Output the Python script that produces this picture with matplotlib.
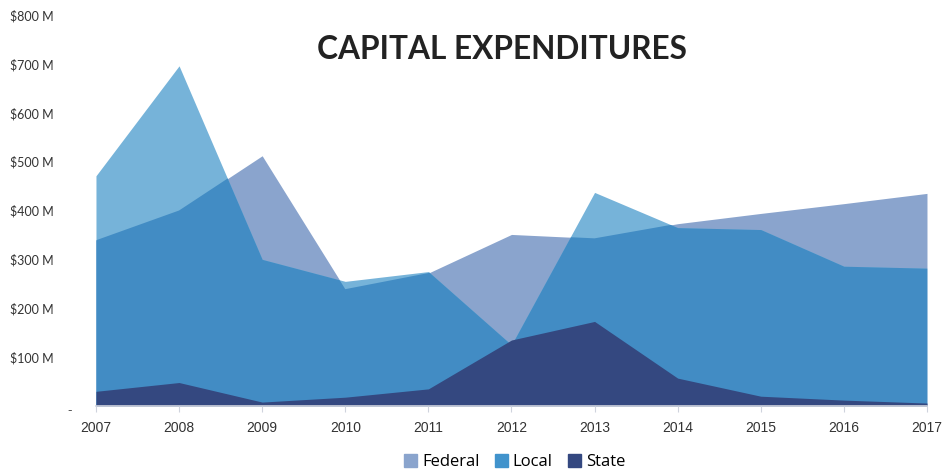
import numpy as np
import matplotlib
matplotlib.use("Agg")
import matplotlib.pyplot as plt
import matplotlib.patches as mpatches

years = [2007, 2008, 2009, 2010, 2011, 2012, 2013, 2014, 2015, 2016, 2017]
federal = [339, 400, 512, 239, 272, 351, 343, 373, 394, 414, 435]
local = [471, 696, 300, 255, 275, 125, 437, 365, 361, 286, 282]
state = [30, 48, 8, 18, 35, 135, 173, 57, 20, 12, 6]

ytick_vals = [100, 200, 300, 400, 500, 600, 700, 800]
ytick_labels = ['$100 M', '$200 M', '$300 M', '$400 M', '$500 M', '$600 M', '$700 M', '$800 M']

c_federal = '#8aa4cd'
c_local_only = '#76b3d9'
c_overlap = '#428cc4'
c_state = '#344880'
c_local_legend = '#4193cc'

fig = plt.figure(figsize=(9.53, 4.75), dpi=100)
ax = fig.add_axes([0.1007, 0.1453, 0.8720, 0.8231])

# federal and local areas overlap; the shared part is drawn in a darker blue
fed_poly = ax.fill_between(years, 0, federal, color=c_federal, lw=0)
loc_poly = ax.fill_between(years, 0, local, color=c_local_only, lw=0)
ovl = ax.fill_between(years, 0, local, color=c_overlap, lw=0)
ovl.set_clip_path(fed_poly.get_paths()[0], ax.transData)
ax.fill_between(years, 0, state, color=c_state, lw=0)

ax.set_xlim(years[0], years[-1])
ax.set_ylim(0, 800)
ax.set_xticks(years)
ax.set_xticklabels([str(y) for y in years], fontsize=10, family='Liberation Sans', color='#333333')
ax.set_yticks(ytick_vals)
ax.set_yticklabels(ytick_labels, fontsize=9, family='Lato', color='#333333', ha='left')
ax.tick_params(axis='y', length=0, pad=62)
ax.tick_params(axis='x', length=4, color='#cfd3dd', pad=7)
ax.annotate('-', xy=(0, 0), xycoords=('axes fraction', 'data'), xytext=(-19, -3),
            textcoords='offset points', ha='center', va='center', fontsize=9, color='#555555')

for side in ['top', 'right', 'left']:
    ax.spines[side].set_visible(False)
ax.spines['bottom'].set_color('#cfd3dd')
ax.spines['bottom'].set_linewidth(1.2)

ax.text(0.489, 0.912, 'CAPITAL EXPENDITURES', transform=ax.transAxes, ha='center', va='center',
        fontsize=22.8, fontweight='bold', family='Lato', color='#222222')

handles = [mpatches.Patch(color=c_federal, label='Federal'),
           mpatches.Patch(color=c_local_legend, label='Local'),
           mpatches.Patch(color=c_state, label='State')]
fig.legend(handles=handles, loc='center', bbox_to_anchor=(0.54, 0.027), ncol=3, frameon=False,
           prop={'family': 'Open Sans', 'size': 12}, handlelength=0.8, handleheight=0.8,
           handletextpad=0.3, columnspacing=0.9)

fig.savefig('out.png', dpi=100)
